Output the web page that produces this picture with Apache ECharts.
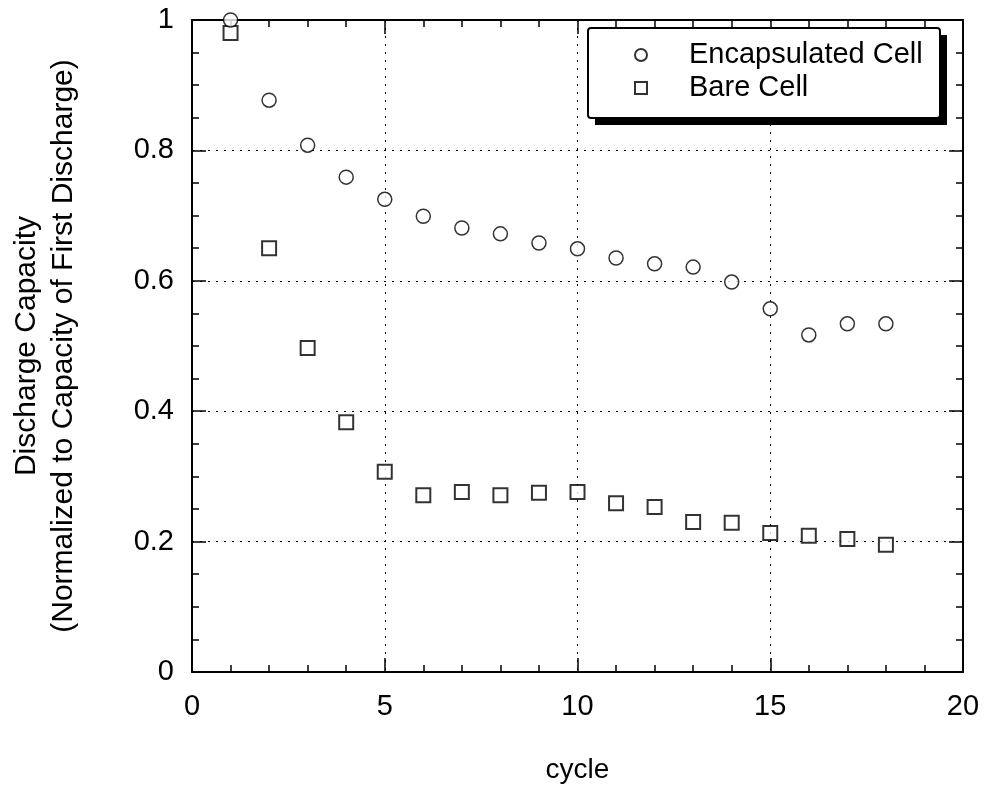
<!DOCTYPE html>
<html><head><meta charset="utf-8">
<script src="https://cdn.jsdelivr.net/npm/echarts@6/dist/echarts.min.js"></script>
<style>html,body{margin:0;padding:0;background:#fff}#c{width:986px;height:792px}</style>
</head><body><div id="c"></div>
<script>
const cycles = [1,2,3,4,5,6,7,8,9,10,11,12,13,14,15,16,17,18];
const encapsulated = [1.0,0.877,0.808,0.759,0.725,0.699,0.681,0.672,0.658,0.649,0.635,0.626,0.621,0.598,0.557,0.517,0.534,0.534];
const bare = [0.98,0.650,0.497,0.383,0.307,0.271,0.276,0.271,0.275,0.276,0.259,0.253,0.230,0.229,0.213,0.209,0.204,0.195];
const seriesNames = ['Encapsulated Cell','Bare Cell'];

const FONT = 'Liberation Sans, Arial, sans-serif';
const chart = echarts.init(document.getElementById('c'));
const pair = (ys) => cycles.map((c,i)=>[c, ys[i]]);
const axisLine = {show:true, onZero:false, lineStyle:{color:'#000', width:2}};
const tick = {inside:true, length:14, lineStyle:{color:'#000', width:1.5}};
chart.setOption({
  backgroundColor:'#fff',
  animation:false,
  grid:{left:191, right:23, top:20, bottom:120},
  graphic:[
    {type:'rect', z:90, shape:{x:595, y:35, width:352, height:90}, style:{fill:'#000'}},
    {type:'rect', z:91, shape:{x:588, y:28, width:352, height:90, r:3}, style:{fill:'#fff', stroke:'#000', lineWidth:2}}
  ],
  legend:{
    left:634, top:40, orient:'vertical', itemGap:3, z:100,
    padding:0,
    itemWidth:12, itemHeight:12,
    textStyle:{fontFamily:FONT, fontSize:29, lineHeight:30, color:'#000', padding:[0,0,0,37]},
    data:[{name:seriesNames[0], icon:'circle'},{name:seriesNames[1], icon:'rect'}]
  },
  xAxis:[{
    type:'value', min:0, max:20, interval:5, position:'bottom',
    name:'cycle', nameLocation:'middle', nameGap:84,
    nameTextStyle:{fontFamily:FONT, fontSize:28, color:'#000'},
    axisLine, axisTick:tick,
    minorTick:{show:true, splitNumber:5, length:7, lineStyle:{color:'#000', width:1.5}},
    axisLabel:{fontFamily:FONT, fontSize:29, color:'#000', margin:20},
    splitLine:{show:true, lineStyle:{color:'#000', type:[2,6], width:1}}
  },{
    type:'value', min:0, max:20, interval:5, position:'top',
    axisLine, axisTick:tick,
    minorTick:{show:true, splitNumber:5, length:7, lineStyle:{color:'#000', width:1.5}},
    axisLabel:{show:false}, splitLine:{show:false}
  }],
  yAxis:[{
    type:'value', min:0, max:1, interval:0.2, position:'left',
    name:'Discharge Capacity\n(Normalized to Capacity of First Discharge)',
    nameLocation:'middle', nameGap:110,
    nameTextStyle:{fontFamily:FONT, fontSize:30, color:'#000', lineHeight:37},
    axisLine, axisTick:tick,
    minorTick:{show:true, splitNumber:4, length:7, lineStyle:{color:'#000', width:1.5}},
    axisLabel:{fontFamily:FONT, fontSize:29, color:'#000', margin:18,
      formatter:(v)=> v===0||v===1 ? String(v) : String(+v.toFixed(1))},
    splitLine:{show:true, lineStyle:{color:'#000', type:[2,6], width:1}}
  },{
    type:'value', min:0, max:1, interval:0.2, position:'right',
    axisLine, axisTick:tick,
    minorTick:{show:true, splitNumber:4, length:7, lineStyle:{color:'#000', width:1.5}},
    axisLabel:{show:false}, splitLine:{show:false}
  }],
  series:[{
    name:seriesNames[0], type:'scatter', symbol:'circle', symbolSize:14,
    itemStyle:{color:'#fff', borderColor:'#000', borderWidth:1.5},
    data:pair(encapsulated), z:3
  },{
    name:seriesNames[1], type:'scatter', symbol:'rect', symbolSize:14,
    itemStyle:{color:'#fff', borderColor:'#000', borderWidth:2},
    data:pair(bare), z:2
  }]
});
</script></body></html>
